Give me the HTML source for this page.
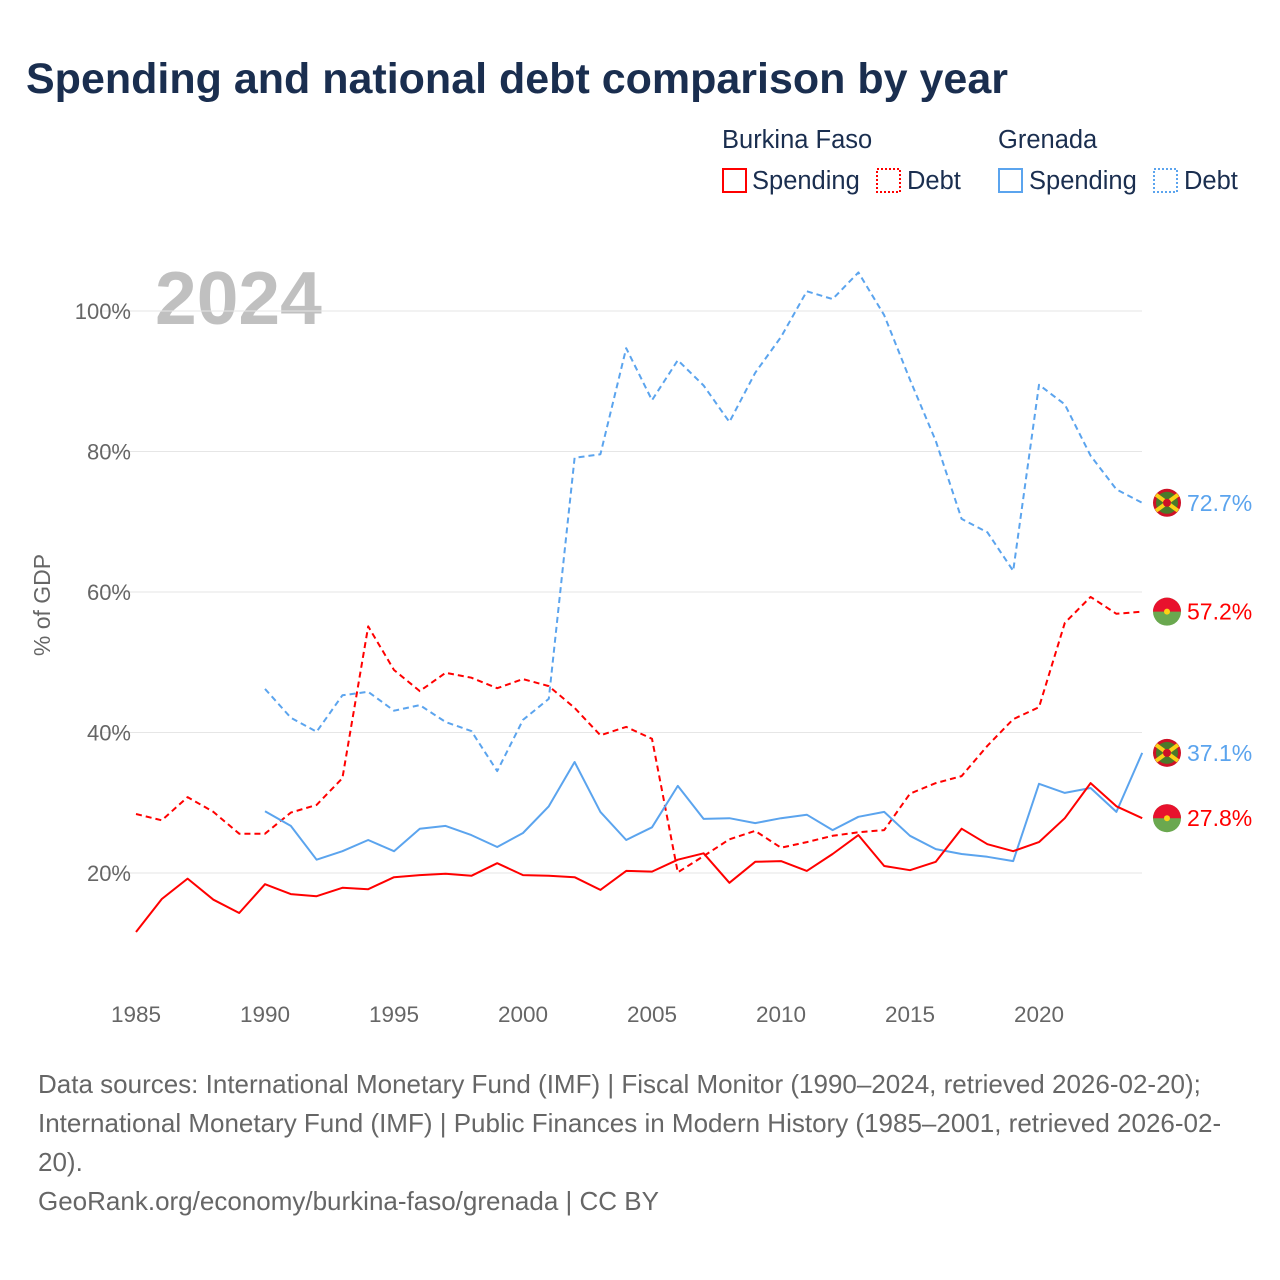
<!DOCTYPE html>
<html><head><meta charset="utf-8">
<style>
body{margin:0;background:#fff;font-family:"Liberation Sans","DejaVu Sans",sans-serif;}
#wrap{position:relative;width:1280px;height:1280px;overflow:hidden;}
</style></head>
<body>
<div id="wrap">
<svg id="chart" width="1280" height="1280">
<text x="26" y="93" font-size="43" font-weight="bold" fill="#1a2e4f">Spending and national debt comparison by year</text>
<g font-size="25.5" fill="#1a2e4f">
<text x="722" y="148">Burkina Faso</text>
<text x="998" y="148">Grenada</text>
<rect x="723" y="169" width="23" height="23" fill="none" stroke="#ff0000" stroke-width="2"/>
<text x="752" y="189">Spending</text>
<rect x="877" y="169" width="23" height="23" fill="none" stroke="#ff0000" stroke-width="2" stroke-dasharray="2,2"/>
<text x="907" y="189">Debt</text>
<rect x="999" y="169" width="23" height="23" fill="none" stroke="#5ba4ee" stroke-width="2"/>
<text x="1029" y="189">Spending</text>
<rect x="1154" y="169" width="23" height="23" fill="none" stroke="#5ba4ee" stroke-width="2" stroke-dasharray="2,2"/>
<text x="1184" y="189">Debt</text>
</g>
<text x="155" y="324" font-size="75" font-weight="bold" fill="#c0c0c0">2024</text>
<text transform="translate(50,605) rotate(-90)" text-anchor="middle" font-size="23" fill="#666">% of GDP</text>
<g id="grid"></g><g id="series"></g><g id="labels"></g>
<g font-size="26" fill="#666">
<text x="38" y="1093">Data sources: International Monetary Fund (IMF) | Fiscal Monitor (1990–2024, retrieved 2026-02-20);</text>
<text x="38" y="1132">International Monetary Fund (IMF) | Public Finances in Modern History (1985–2001, retrieved 2026-02-</text>
<text x="38" y="1171">20).</text>
<text x="38" y="1210">GeoRank.org/economy/burkina-faso/grenada | CC BY</text>
</g>
</svg>
</div>
<script>
const yTicks=[20,40,60,80,100];
const xTicks=[1985,1990,1995,2000,2005,2010,2015,2020];
const bfSpendYears=[1985,1986,1987,1988,1989,1990,1991,1992,1993,1994,1995,1996,1997,1998,1999,2000,2001,2002,2003,2004,2005,2006,2007,2008,2009,2010,2011,2012,2013,2014,2015,2016,2017,2018,2019,2020,2021,2022,2023,2024];
const bfSpending=[11.6,16.3,19.2,16.2,14.3,18.4,17.0,16.7,17.9,17.7,19.4,19.7,19.9,19.6,21.4,19.7,19.6,19.4,17.6,20.3,20.2,21.9,22.8,18.6,21.6,21.7,20.3,22.7,25.4,21.0,20.4,21.6,26.3,24.1,23.1,24.4,27.8,32.8,29.5,27.8];
const bfDebt=[28.4,27.5,30.8,28.7,25.6,25.6,28.6,29.7,33.5,55.1,48.9,45.9,48.5,47.8,46.3,47.6,46.6,43.5,39.6,40.8,39.1,20.1,22.4,24.8,26.0,23.6,24.4,25.3,25.8,26.1,31.3,32.8,33.8,38.1,41.9,43.6,55.6,59.3,56.9,57.2];
const gdYears=[1990,1991,1992,1993,1994,1995,1996,1997,1998,1999,2000,2001,2002,2003,2004,2005,2006,2007,2008,2009,2010,2011,2012,2013,2014,2015,2016,2017,2018,2019,2020,2021,2022,2023,2024];
const gdSpending=[28.8,26.7,21.9,23.1,24.7,23.1,26.3,26.7,25.4,23.7,25.7,29.5,35.8,28.7,24.7,26.5,32.4,27.7,27.8,27.1,27.8,28.3,26.1,28.0,28.7,25.3,23.4,22.7,22.3,21.7,32.7,31.4,32.1,28.7,37.1];
const gdDebt=[46.2,42.1,40.1,45.3,45.8,43.1,43.9,41.5,40.2,34.5,41.8,44.8,79.1,79.6,94.7,87.3,93.0,89.4,84.2,91.2,96.3,102.8,101.7,105.5,99.4,90.2,81.5,70.4,68.5,63.0,89.5,86.7,79.4,74.6,72.7];

const NS='http://www.w3.org/2000/svg';
const X=y=>136+(y-1985)*25.8;
const Y=v=>1013.5-v*7.025;
function mk(tag,attrs,parent){const e=document.createElementNS(NS,tag);for(const k in attrs)e.setAttribute(k,attrs[k]);parent.appendChild(e);return e;}
const grid=document.getElementById('grid'),series=document.getElementById('series'),labels=document.getElementById('labels');
yTicks.forEach(t=>{
 const l=mk('line',{x1:100,x2:1142,y1:Y(t),y2:Y(t),stroke:'#e6e6e6','stroke-width':1},grid);
 
 
 const tx=mk('text',{x:131,y:Y(t)+8,'text-anchor':'end','font-size':22,fill:'#666'},grid);
 tx.textContent=t+'%';
 
 
});
xTicks.forEach(t=>{
 const tx=mk('text',{x:X(t),y:1022,'text-anchor':'middle','font-size':22.5,fill:'#666'},grid);
 tx.textContent=t;
 
 
});
function line(years,vals,color,dash,name){
 const d=years.map((y,i)=>(i?'L':'M')+X(y).toFixed(1)+','+Y(vals[i]).toFixed(1)).join('');
 const p=mk('path',{d:d,fill:'none',stroke:color,'stroke-width':2,'stroke-dasharray':dash||'none','stroke-linejoin':'round'},series);
 
 
}
line(gdYears,gdDebt,'#5ba4ee','6,4','grenada-debt-line');
line(bfSpendYears,bfDebt,'#ff0000','6,4','burkina-debt-line');
line(gdYears,gdSpending,'#5ba4ee','','grenada-spending-line');
line(bfSpendYears,bfSpending,'#ff0000','','burkina-spending-line');
function endLabel(v,color,flag,name){
 const cy=Y(v),cx=1167;
 const g=mk('g',{},labels);
 
 
 if(flag==='bf'){
  mk('circle',{cx:cx,cy:cy,r:14,fill:'#6aa84f'},g);
  mk('path',{d:`M${cx-14},${cy} A14,14 0 0 1 ${cx+14},${cy} Z`,fill:'#e8112d'},g);
  mk('circle',{cx:cx,cy:cy,r:3,fill:'#fcd116'},g);
 }else{
  mk('circle',{cx:cx,cy:cy,r:14,fill:'#ce1126'},g);
  mk('circle',{cx:cx,cy:cy,r:11,fill:'#4a7a2a'},g);
  mk('path',{d:`M${cx-11},${cy-8}L${cx+11},${cy+8}M${cx+11},${cy-8}L${cx-11},${cy+8}`,stroke:'#fcd116','stroke-width':4},g);
  mk('circle',{cx:cx,cy:cy,r:4,fill:'#ce1126'},g);
 }
 const t=mk('text',{x:1187,y:cy+8,'font-size':23,fill:color},labels);
 t.textContent=v.toFixed(1)+'%';
 
 
}
endLabel(gdDebt[gdDebt.length-1],'#5ba4ee','gd','grenada-debt-end');
endLabel(bfDebt[bfDebt.length-1],'#ff0000','bf','burkina-debt-end');
endLabel(gdSpending[gdSpending.length-1],'#5ba4ee','gd','grenada-spending-end');
endLabel(bfSpending[bfSpending.length-1],'#ff0000','bf','burkina-spending-end');
</script>
</body></html>
